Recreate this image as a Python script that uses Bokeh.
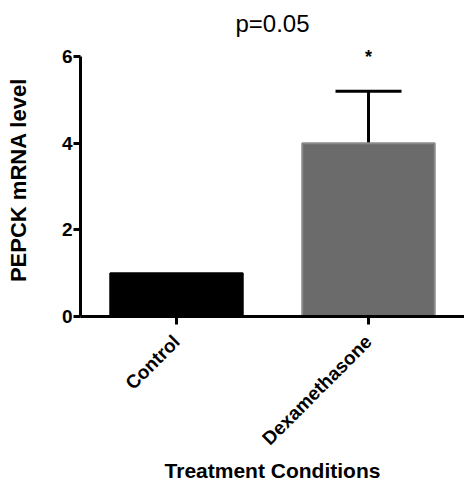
import math
from bokeh.plotting import figure
from bokeh.models import FactorRange, Range1d, Whisker, TeeHead, ColumnDataSource, FixedTicker
from bokeh.core.properties import value
from bokeh.embed import file_html
from bokeh.resources import INLINE

categories = ["Control", "Dexamethasone"]
means = [1.0, 4.0]
sems = [0.0, 1.2]
bar_colors = ["#000000", "#6b6b6b"]
bar_lines = ["#000000", "#8a8a8a"]
sig_marks = ["", "*"]
sig_y = [0.0, 6.0]
y_ticks = [0, 2, 4, 6]
title_text = "p=0.05"
x_title = "Treatment Conditions"
y_title = "PEPCK mRNA level"

FONT = "Liberation Sans"

p = figure(x_range=FactorRange(*categories, range_padding=0), y_range=Range1d(0, 6.3),
           width=464, height=485, output_backend="svg", toolbar_location=None,
           min_border_left=80, min_border_right=0, min_border_top=43, min_border_bottom=169)
p.outline_line_color = None
p.xgrid.grid_line_color = None
p.ygrid.grid_line_color = None

p.title.text = title_text
p.title.align = "center"
p.title.text_font = FONT
p.title.text_font_style = "normal"
p.title.text_font_size = "24px"
p.title.text_color = "black"
p.title.standoff = 13

src = ColumnDataSource(dict(cat=categories, mean=means, sem=sems,
                            upper=[m + s for m, s in zip(means, sems)],
                            fill=bar_colors, line=bar_lines))
p.vbar(x="cat", top="mean", bottom=0, width=0.69, source=src,
       fill_color="fill", line_color="line", line_width=2)

wsrc = ColumnDataSource(dict(cat=categories[1:], lower=means[1:],
                             upper=[m + s for m, s in zip(means[1:], sems[1:])]))
w = Whisker(base="cat", lower="lower", upper="upper", source=wsrc,
            line_width=3, line_color="black",
            upper_head=TeeHead(size=66, line_width=3, line_color="black"), lower_head=None)
p.add_layout(w)

p.text(x=categories, y=sig_y, text=sig_marks, text_font=value(FONT), text_font_style="bold",
       text_font_size="18px", text_align="center", text_baseline="middle", text_color="black")

for ax in (p.xaxis[0], p.yaxis[0]):
    ax.axis_line_width = 3
    ax.axis_line_color = "black"
    ax.major_tick_line_width = 3
    ax.major_tick_line_color = "black"
    ax.minor_tick_line_color = None
    ax.major_tick_in = 0
    ax.major_label_text_font = FONT
    ax.major_label_text_font_style = "bold"
    ax.major_label_text_color = "black"
    ax.axis_label_text_font = FONT
    ax.axis_label_text_font_style = "bold"
    ax.axis_label_text_color = "black"

p.yaxis.ticker = FixedTicker(ticks=y_ticks)
p.yaxis.bounds = (0, 6)
p.yaxis.major_tick_out = 7
p.yaxis.major_label_standoff = 1
p.yaxis.major_label_text_font_size = "19px"
p.yaxis.axis_label = y_title
p.yaxis.axis_label_text_font_size = "22px"
p.yaxis.axis_label_standoff = 28

p.xaxis.major_tick_out = 8
p.xaxis.major_label_orientation = math.pi / 4
p.xaxis.major_label_text_font_size = "19px"
p.xaxis.major_label_standoff = 14
p.xaxis.axis_label = x_title
p.xaxis.axis_label_text_font_size = "21px"
p.xaxis.axis_label_standoff = 0

open("out.html", "w").write(file_html(p, INLINE))
